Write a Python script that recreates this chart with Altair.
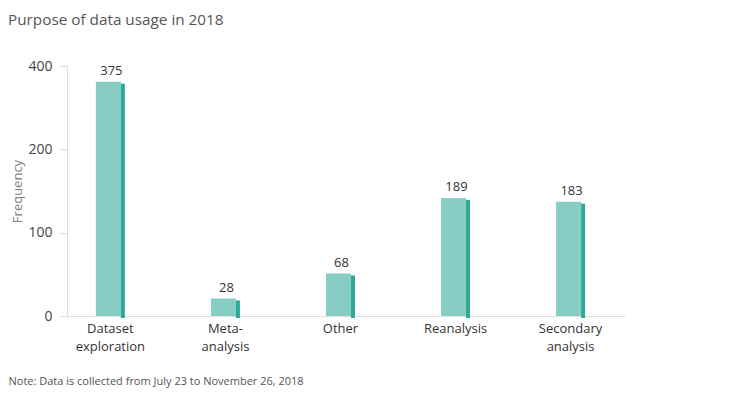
import altair as alt
import pandas as pd

# ---- data ----
categories = ["Dataset exploration", "Meta-analysis", "Other", "Reanalysis", "Secondary analysis"]
counts = [375, 28, 68, 189, 183]
tick_values = [0, 133.3, 266.7, 400]
tick_labels = ["0", "100", "200", "400"]

title_text = "Purpose of data usage in 2018"
note_text = "Note: Data is collected from July 23 to November 26, 2018"

FONT = "Open Sans"
FRONT = "#86cdc4"
SIDE = "#2ca997"

df = pd.DataFrame({"purpose": categories, "count": counts})

# label expression mapping tick value -> printed label
expr = f"'{tick_labels[-1]}'"
for v, l in zip(reversed(tick_values[:-1]), reversed(tick_labels[:-1])):
    expr = f"abs(datum.value - {v}) < 1 ? '{l}' : ({expr})"

x_enc = alt.X(
    "purpose:N",
    sort=None,
    scale=alt.Scale(paddingInner=0.75, paddingOuter=0.3, align=0.42),
    axis=alt.Axis(
        title=note_text,
        titleX=-59,
        titleY=65,
        titleAlign="left",
        titleBaseline="middle",
        titleAngle=0,
        titleFont=FONT,
        titleFontSize=11,
        titleFontWeight="normal",
        titleColor="#555555",
        labelExpr="split(replace(datum.label, '-', '- '), ' ')",
        labelAngle=0,
        labelFont=FONT,
        labelFontSize=13,
        labelColor="#333333",
        labelLineHeight=18,
        labelPadding=6,
        ticks=False,
        domainColor="#dddddd",
        grid=False,
    ),
)

y_scale = alt.Scale(domain=[0, 400], nice=False)

base = alt.Chart(df).encode(x=x_enc)

front = base.mark_bar(width=25, xOffset=-2, color=FRONT).encode(
    y=alt.Y(
        "count:Q",
        scale=y_scale,
        axis=alt.Axis(
            title="Frequency",
            values=tick_values,
            labelExpr=expr,
            titleX=-50,
            titleY=125,
            titleAngle=270,
            titleAlign="center",
            titleBaseline="middle",
            titleFont=FONT,
            titleFontSize=13,
            titleFontWeight="normal",
            titleColor="#808080",
            labelFont=FONT,
            labelFontSize=14,
            labelColor="#444444",
            labelPadding=7,
            tickSize=8,
            tickColor="#dddddd",
            domainColor="#dddddd",
            grid=False,
        ),
    )
)

side = base.mark_bar(width=4, xOffset=12.5, yOffset=2, color=SIDE).encode(
    y=alt.Y("count:Q", scale=y_scale)
)

labels = base.mark_text(
    dy=-7, dx=1, baseline="alphabetic", font=FONT, fontSize=13, color="#333333"
).encode(y=alt.Y("count:Q", scale=y_scale), text="count:Q")

chart = (
    alt.layer(front, side, labels)
    .properties(
        width=558,
        height=250,
        padding={"left": 59, "top": 58, "right": 100, "bottom": 72},
        autosize=alt.AutoSizeParams(type="none"),
        title=alt.TitleParams(
            title_text,
            anchor="start",
            frame="group",
            dx=-59,
            offset=31,
            font=FONT,
            fontSize=15.3,
            fontWeight="normal",
            color="#555555",
        ),
    )
    .configure_view(stroke=None)
)

chart.save("out.html", embed_options={"renderer": "svg", "actions": False})
